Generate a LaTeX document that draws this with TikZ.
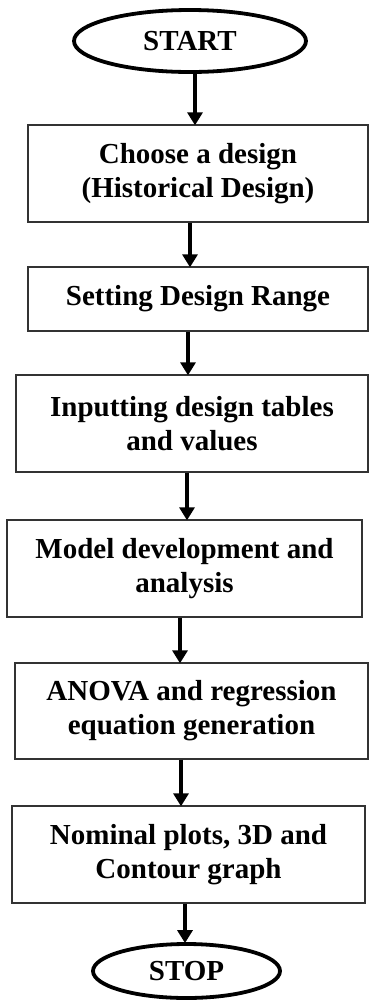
\documentclass[tikz,border=0pt]{standalone}
\usepackage{fontspec}
\setmainfont{Liberation Serif}
\usetikzlibrary{arrows.meta,shapes.geometric}
\tikzset{
  txt/.style={font=\fontsize{29}{34}\selectfont\bfseries, align=center, text=black},
  term/.style={txt, ellipse, draw=black, line width=3.8pt, inner sep=0pt},
  procbox/.style={txt, rectangle, draw=black!80, line width=1.4pt, inner sep=0pt},
  arr/.style={line width=3.6pt, -{Triangle[width=15pt,length=13pt]}, shorten >=-1pt}
}
\begin{document}
\begin{tikzpicture}[x=1pt,y=1pt]
\useasboundingbox (0,0) rectangle (369,-1002);
\node[term, minimum width=232, minimum height=62] (start) at (190,-41) {START};
\node[procbox, minimum width=340, minimum height=97] (b1) at (198,-173.5) {Choose a design\\(Historical Design)};
\node[procbox, minimum width=340, minimum height=64] (b2) at (198,-299) {Setting Design Range};
\node[procbox, minimum width=352, minimum height=97] (b3) at (192,-423.5) {Inputting design tables\\and values};
\node[procbox, minimum width=355, minimum height=97] (b4) at (184.5,-568.5) {Model development and\\analysis};
\node[procbox, minimum width=353, minimum height=96] (b5) at (191.5,-711) {ANOVA and regression\\equation generation};
\node[procbox, minimum width=353, minimum height=97] (b6) at (188.5,-854.5) {Nominal plots, 3D and\\Contour graph};
\node[term, minimum width=187, minimum height=54] (stop) at (186.5,-971) {STOP};
\draw[arr] (start.south -| 195,0) -- (b1.north -| 195,0);
\draw[arr] (b1.south -| 190,0) -- (b2.north -| 190,0);
\draw[arr] (b2.south -| 188,0) -- (b3.north -| 188,0);
\draw[arr] (b3.south -| 187,0) -- (b4.north -| 187,0);
\draw[arr] (b4.south -| 180,0) -- (b5.north -| 180,0);
\draw[arr] (b5.south -| 181,0) -- (b6.north -| 181,0);
\draw[arr] (b6.south -| 185,0) -- (stop.north -| 185,0);
\end{tikzpicture}
\end{document}
